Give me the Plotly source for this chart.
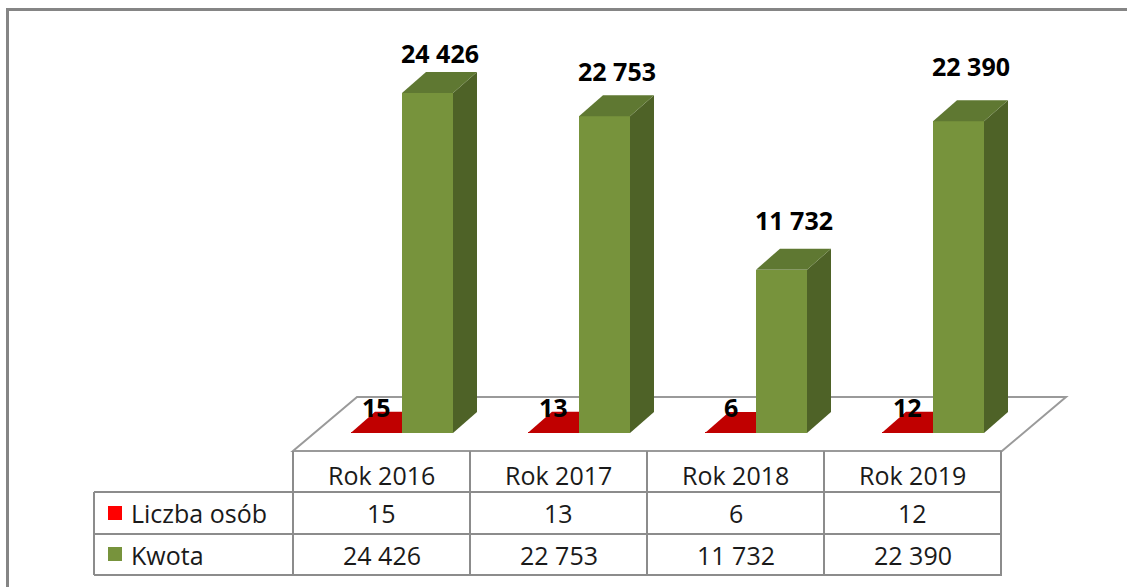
import plotly.graph_objects as go

# ---------------- data ----------------
categories = ["Rok 2016", "Rok 2017", "Rok 2018", "Rok 2019"]
series_names = ["Liczba osób", "Kwota"]
liczba_osob = [15, 13, 6, 12]
kwota = [24426, 22753, 11732, 22390]

# ---------------- layout constants (pixels) ----------------
W, H = 1127, 587
CAT0_PX = 402        # x pixel of first category anchor (bar front)
CAT_PX = 177         # pixel width of one category
BASE_PX = 433        # y pixel of value 0 at bar front
VAL_PX = 0.01392     # pixels per value unit
BAR_PX = 51          # front face width of a bar
DX_PX, DY_PX = 24, 21  # 3-D depth offset

BW = BAR_PX / CAT_PX
DXU = DX_PX / CAT_PX
DYU = DY_PX / VAL_PX

RED_FRONT = "#FF0000"
RED_TOP = "#C00000"
G_FRONT = "#77933C"
G_SIDE = "#4E6227"
G_TOP = "#5F7832"
GRID = "#8C8C8C"
FONT = "Open Sans"
TXT = "#1a1a1a"
TSIZE = 25


def fmt(v):
    return f"{v:,}".replace(",", " ")


def pxx(px):
    return px / W


def pxy(py):
    return 1 - py / H


idx = list(range(len(categories)))

fig = go.Figure()
fig.add_trace(go.Bar(x=idx, y=liczba_osob, width=BW, offset=-BW, name=series_names[0],
                     marker=dict(color=RED_TOP, line=dict(width=0)), showlegend=False,
                     hoverinfo="skip"))
fig.add_trace(go.Bar(x=idx, y=kwota, width=BW, offset=0, name=series_names[1],
                     marker=dict(color=G_FRONT, line=dict(width=0)), showlegend=False,
                     hoverinfo="skip"))

shapes = []

# outer chart frame
shapes.append(dict(type="rect", xref="paper", yref="paper", x0=pxx(7.5), x1=pxx(W + 20),
                   y0=pxy(H + 20), y1=pxy(9.5), line=dict(color="#858585", width=3),
                   fillcolor="rgba(0,0,0,0)", layer="below"))

# floor (parallelogram)
fl = [(293, 451), (1002, 451), (1066, 397), (357, 397)]
path = "M " + " L ".join(f"{pxx(a)},{pxy(b)}" for a, b in fl) + " Z"
shapes.append(dict(type="path", xref="paper", yref="paper", path=path,
                   line=dict(color="#9A9A9A", width=2), fillcolor="white", layer="below"))

# red bar top faces (below traces so green front covers them)
for i, v in zip(idx, liczba_osob):
    xl, xr = i - BW, i
    p = f"M {xl},{v} L {xr},{v} L {xr + DXU},{v + DYU} L {xl + DXU},{v + DYU} Z"
    shapes.append(dict(type="path", xref="x", yref="y", path=p, line=dict(width=0),
                       fillcolor=RED_TOP, layer="below"))

# green bar side & top faces
for i, v in zip(idx, kwota):
    xl, xr = i, i + BW
    side = f"M {xr},0 L {xr + DXU},{DYU} L {xr + DXU},{v + DYU} L {xr},{v} Z"
    top = f"M {xl},{v} L {xr},{v} L {xr + DXU},{v + DYU} L {xl + DXU},{v + DYU} Z"
    shapes.append(dict(type="path", xref="x", yref="y", path=side, line=dict(width=0),
                       fillcolor=G_SIDE, layer="above"))
    shapes.append(dict(type="path", xref="x", yref="y", path=top, line=dict(width=0),
                       fillcolor=G_TOP, layer="above"))

# data table grid
COL_L = -109 / CAT_PX   # left cell border relative to category anchor
ROW_Y = [451, 492, 534, 575]
LEG_L = 94
for k in range(len(categories) + 1):
    xb = k + COL_L
    shapes.append(dict(type="line", xref="x", yref="paper", x0=xb, x1=xb,
                       y0=pxy(ROW_Y[0]), y1=pxy(ROW_Y[-1]), line=dict(color=GRID, width=2)))
for r in ROW_Y[1:]:
    shapes.append(dict(type="line", xref="paper", yref="paper", x0=pxx(LEG_L), x1=pxx(1002),
                       y0=pxy(r), y1=pxy(r), line=dict(color=GRID, width=2)))
shapes.append(dict(type="line", xref="paper", yref="paper", x0=pxx(LEG_L), x1=pxx(LEG_L),
                   y0=pxy(ROW_Y[1]), y1=pxy(ROW_Y[-1]), line=dict(color=GRID, width=2)))

# legend keys
for (yc, col) in [(513, RED_FRONT), (554, G_FRONT)]:
    shapes.append(dict(type="rect", xref="paper", yref="paper", x0=pxx(108), x1=pxx(122),
                       y0=pxy(yc + 7), y1=pxy(yc - 7), line=dict(width=0), fillcolor=col))

annotations = []
cell_c = COL_L + 0.5
row_text_y = [475, 513, 555]
for i, cat in enumerate(categories):
    for txt, yy in [(cat, row_text_y[0]), (fmt(liczba_osob[i]), row_text_y[1]),
                    (fmt(kwota[i]), row_text_y[2])]:
        annotations.append(dict(x=i + cell_c, y=pxy(yy), xref="x", yref="paper",
                                xanchor="center", yanchor="middle", text=txt, showarrow=False,
                                font=dict(family=FONT, size=TSIZE, color=TXT)))

for name, yc in zip(series_names, row_text_y[1:]):
    annotations.append(dict(x=pxx(129), y=pxy(yc), xref="paper", yref="paper", text=name,
                            xanchor="left", yanchor="middle", showarrow=False,
                            font=dict(family=FONT, size=TSIZE, color=TXT)))

# value labels
LIFT, LIFT_STEP = 40, 5
for i, v in zip(idx, kwota):
    annotations.append(dict(x=i + BW / 2 + DXU / 2, y=v, xref="x", yref="y", text=f"<b>{fmt(v)}</b>",
                            showarrow=False, xanchor="center", yanchor="middle",
                            yshift=LIFT + LIFT_STEP * i,
                            font=dict(family=FONT, size=25, color="black")))
for i, v in zip(idx, liczba_osob):
    annotations.append(dict(x=i - BW / 2, y=v, xref="x", yref="y", text=f"<b>{fmt(v)}</b>",
                            showarrow=False, xanchor="center", yanchor="middle", yshift=26,
                            font=dict(family=FONT, size=25, color="black")))

fig.update_layout(
    width=W, height=H, margin=dict(l=0, r=0, t=0, b=0),
    paper_bgcolor="white", plot_bgcolor="white",
    barmode="overlay", bargap=0,
    xaxis=dict(range=[-CAT0_PX / CAT_PX, (W - CAT0_PX) / CAT_PX], visible=False, fixedrange=True),
    yaxis=dict(range=[(BASE_PX - H) / VAL_PX, BASE_PX / VAL_PX], visible=False, fixedrange=True),
    shapes=shapes, annotations=annotations,
)

fig.write_html("out.html", config={"displayModeBar": False},
               post_script="document.body.style.margin='0';document.body.style.overflow='hidden';")
